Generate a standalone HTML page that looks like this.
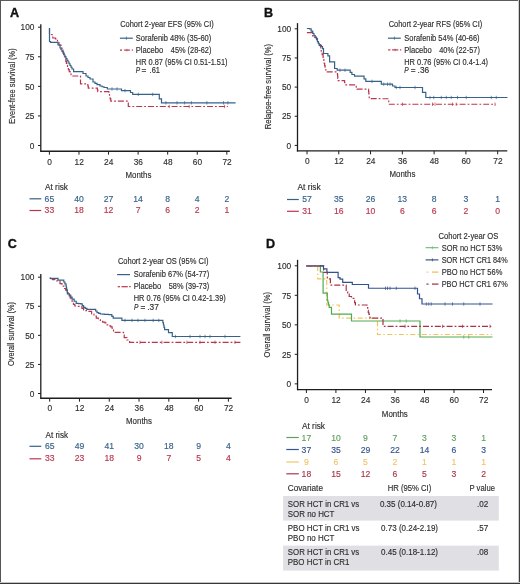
<!DOCTYPE html>
<html><head><meta charset="utf-8"><style>
html,body{margin:0;padding:0;background:#fff;}
body{width:520px;height:584px;overflow:hidden;position:relative;}
svg{position:absolute;left:0;top:0;will-change:transform;}
text{font-family:"Liberation Sans", sans-serif;}
</style></head><body>
<svg width="520" height="584" viewBox="0 0 520 584">
<rect x="0" y="0" width="520" height="584" fill="#fff"/>
<g fill="#2e2e2e">
<text x="10.00" y="17.10" font-size="12.6" fill="#111" font-weight="bold" stroke="#111" stroke-width="0.35">A</text>
<line x1="40.80" y1="24.20" x2="40.80" y2="151.85" stroke="#1e1e1e" stroke-width="1.3"/>
<line x1="40.20" y1="151.25" x2="229.85" y2="151.25" stroke="#1e1e1e" stroke-width="1.3"/>
<line x1="38.00" y1="27.20" x2="40.80" y2="27.20" stroke="#1e1e1e" stroke-width="1.0"/>
<g transform="translate(34.40,30.40) scale(0.85,1)">
<text x="0.00" y="0.00" font-size="9.8" text-anchor="end" stroke="#2e2e2e" stroke-width="0.15">100</text>
</g>
<line x1="38.00" y1="56.77" x2="40.80" y2="56.77" stroke="#1e1e1e" stroke-width="1.0"/>
<g transform="translate(34.40,59.98) scale(0.85,1)">
<text x="0.00" y="0.00" font-size="9.8" text-anchor="end" stroke="#2e2e2e" stroke-width="0.15">75</text>
</g>
<line x1="38.00" y1="86.35" x2="40.80" y2="86.35" stroke="#1e1e1e" stroke-width="1.0"/>
<g transform="translate(34.40,89.55) scale(0.85,1)">
<text x="0.00" y="0.00" font-size="9.8" text-anchor="end" stroke="#2e2e2e" stroke-width="0.15">50</text>
</g>
<line x1="38.00" y1="115.92" x2="40.80" y2="115.92" stroke="#1e1e1e" stroke-width="1.0"/>
<g transform="translate(34.40,119.12) scale(0.85,1)">
<text x="0.00" y="0.00" font-size="9.8" text-anchor="end" stroke="#2e2e2e" stroke-width="0.15">25</text>
</g>
<line x1="38.00" y1="145.50" x2="40.80" y2="145.50" stroke="#1e1e1e" stroke-width="1.0"/>
<g transform="translate(34.40,148.70) scale(0.85,1)">
<text x="0.00" y="0.00" font-size="9.8" text-anchor="end" stroke="#2e2e2e" stroke-width="0.15">0</text>
</g>
<line x1="49.40" y1="151.25" x2="49.40" y2="154.65" stroke="#1e1e1e" stroke-width="1.0"/>
<g transform="translate(49.60,164.60) scale(0.85,1)">
<text x="0.00" y="0.00" font-size="9.8" text-anchor="middle" stroke="#2e2e2e" stroke-width="0.15">0</text>
</g>
<line x1="78.97" y1="151.25" x2="78.97" y2="154.65" stroke="#1e1e1e" stroke-width="1.0"/>
<g transform="translate(79.17,164.60) scale(0.85,1)">
<text x="0.00" y="0.00" font-size="9.8" text-anchor="middle" stroke="#2e2e2e" stroke-width="0.15">12</text>
</g>
<line x1="108.54" y1="151.25" x2="108.54" y2="154.65" stroke="#1e1e1e" stroke-width="1.0"/>
<g transform="translate(108.74,164.60) scale(0.85,1)">
<text x="0.00" y="0.00" font-size="9.8" text-anchor="middle" stroke="#2e2e2e" stroke-width="0.15">24</text>
</g>
<line x1="138.11" y1="151.25" x2="138.11" y2="154.65" stroke="#1e1e1e" stroke-width="1.0"/>
<g transform="translate(138.31,164.60) scale(0.85,1)">
<text x="0.00" y="0.00" font-size="9.8" text-anchor="middle" stroke="#2e2e2e" stroke-width="0.15">36</text>
</g>
<line x1="167.68" y1="151.25" x2="167.68" y2="154.65" stroke="#1e1e1e" stroke-width="1.0"/>
<g transform="translate(167.88,164.60) scale(0.85,1)">
<text x="0.00" y="0.00" font-size="9.8" text-anchor="middle" stroke="#2e2e2e" stroke-width="0.15">48</text>
</g>
<line x1="197.25" y1="151.25" x2="197.25" y2="154.65" stroke="#1e1e1e" stroke-width="1.0"/>
<g transform="translate(197.45,164.60) scale(0.85,1)">
<text x="0.00" y="0.00" font-size="9.8" text-anchor="middle" stroke="#2e2e2e" stroke-width="0.15">60</text>
</g>
<line x1="226.82" y1="151.25" x2="226.82" y2="154.65" stroke="#1e1e1e" stroke-width="1.0"/>
<g transform="translate(227.02,164.60) scale(0.85,1)">
<text x="0.00" y="0.00" font-size="9.8" text-anchor="middle" stroke="#2e2e2e" stroke-width="0.15">72</text>
</g>
<text x="138.40" y="177.90" font-size="9.3" text-anchor="middle" stroke="#2e2e2e" stroke-width="0.15" textLength="25.90" lengthAdjust="spacingAndGlyphs">Months</text>
<text transform="translate(14.6,86.0) rotate(-90)" font-size="9.4" text-anchor="middle" textLength="75.4" lengthAdjust="spacingAndGlyphs" stroke="#2e2e2e" stroke-width="0.15">Event-free survival (%)</text>
<path d="M49.50,28.00 L49.50,33.50 L51.50,33.50 L51.50,34.50 L52.15,34.50 L52.15,36.25 L52.80,36.25 L52.80,38.00 L55.50,38.00 L55.50,38.80 L57.50,38.80 L57.50,42.00 L59.00,42.00 L59.00,45.00 L61.00,45.00 L61.00,48.00 L62.00,48.00 L62.00,50.00 L63.00,50.00 L63.00,52.00 L63.70,52.00 L63.70,54.33 L64.40,54.33 L64.40,56.65 L65.10,56.65 L65.10,58.97 L65.80,58.97 L65.80,61.30 L66.37,61.30 L66.37,63.33 L66.93,63.33 L66.93,65.37 L67.50,65.37 L67.50,67.40 L68.38,67.40 L68.38,69.55 L69.25,69.55 L69.25,71.70 L70.12,71.70 L70.12,73.85 L71.00,73.85 L71.00,76.00 L80.50,76.00 L80.50,83.80 L87.40,83.80 L87.85,83.80 L87.85,86.00 L88.30,86.00 L88.30,88.20 L97.00,88.20 L97.40,88.20 L97.40,89.90 L97.80,89.90 L97.80,91.60 L108.20,91.60 L108.85,91.60 L108.85,94.00 L109.50,94.00 L109.50,96.40 L110.15,96.40 L110.15,98.80 L110.80,98.80 L110.80,101.20 L128.30,101.20 L128.30,106.50 L227.90,106.50" fill="none" stroke="#ba364e" stroke-width="1.2" stroke-linejoin="miter" stroke-dasharray="6 2 1.8 2"/>
<path d="M49.50,28.00 L49.50,41.50 L50.50,41.50 L50.50,42.30 L56.20,42.30 L58.00,42.30 L58.00,45.00 L60.00,45.00 L60.00,48.00 L61.00,48.00 L61.00,49.75 L62.00,49.75 L62.00,51.50 L63.00,51.50 L63.00,53.25 L64.00,53.25 L64.00,55.00 L65.00,55.00 L65.00,56.75 L66.00,56.75 L66.00,58.50 L67.00,58.50 L67.00,60.25 L68.00,60.25 L68.00,62.00 L69.00,62.00 L69.00,63.75 L70.00,63.75 L70.00,65.50 L71.00,65.50 L71.00,67.25 L72.00,67.25 L72.00,69.00 L73.60,69.00 L73.60,71.70 L80.50,71.70 L83.00,71.70 L83.00,73.50 L86.00,73.50 L86.00,76.00 L88.00,76.00 L88.00,77.50 L90.00,77.50 L90.00,79.00 L93.00,79.00 L93.00,82.00 L95.00,82.00 L95.00,83.35 L97.00,83.35 L97.00,84.70 L100.00,84.70 L100.00,86.00 L102.00,86.00 L102.00,86.75 L104.00,86.75 L104.00,87.50 L107.30,87.50 L107.30,89.00 L120.30,89.00 L121.50,89.00 L121.50,90.60 L130.50,90.60 L130.50,92.50 L132.70,92.50 L132.70,94.40 L159.30,94.40 L159.30,98.80 L161.50,98.80 L161.50,102.80 L235.60,102.80" fill="none" stroke="#36628a" stroke-width="1.2" stroke-linejoin="miter"/>
<line x1="112.00" y1="87.30" x2="112.00" y2="90.70" stroke="#36628a" stroke-width="0.7"/>
<line x1="117.00" y1="87.30" x2="117.00" y2="90.70" stroke="#36628a" stroke-width="0.7"/>
<line x1="125.00" y1="88.90" x2="125.00" y2="92.30" stroke="#36628a" stroke-width="0.7"/>
<line x1="138.30" y1="92.70" x2="138.30" y2="96.10" stroke="#36628a" stroke-width="0.7"/>
<line x1="152.70" y1="92.70" x2="152.70" y2="96.10" stroke="#36628a" stroke-width="0.7"/>
<line x1="165.90" y1="101.10" x2="165.90" y2="104.50" stroke="#36628a" stroke-width="0.7"/>
<line x1="177.00" y1="101.10" x2="177.00" y2="104.50" stroke="#36628a" stroke-width="0.7"/>
<line x1="184.70" y1="101.10" x2="184.70" y2="104.50" stroke="#36628a" stroke-width="0.7"/>
<line x1="191.40" y1="101.10" x2="191.40" y2="104.50" stroke="#36628a" stroke-width="0.7"/>
<line x1="206.90" y1="101.10" x2="206.90" y2="104.50" stroke="#36628a" stroke-width="0.7"/>
<line x1="223.50" y1="101.10" x2="223.50" y2="104.50" stroke="#36628a" stroke-width="0.7"/>
<line x1="227.90" y1="101.10" x2="227.90" y2="104.50" stroke="#36628a" stroke-width="0.7"/>
<line x1="169.20" y1="104.80" x2="169.20" y2="108.20" stroke="#ba364e" stroke-width="0.7"/>
<line x1="189.20" y1="104.80" x2="189.20" y2="108.20" stroke="#ba364e" stroke-width="0.7"/>
<line x1="224.60" y1="104.80" x2="224.60" y2="108.20" stroke="#ba364e" stroke-width="0.7"/>
<text x="120.20" y="26.60" font-size="8.3" stroke="#2e2e2e" stroke-width="0.15" textLength="93.50" lengthAdjust="spacingAndGlyphs">Cohort 2-year EFS (95% CI)</text>
<line x1="119.90" y1="38.20" x2="132.80" y2="38.20" stroke="#36628a" stroke-width="1.2"/>
<line x1="126.40" y1="36.60" x2="126.40" y2="39.80" stroke="#36628a" stroke-width="0.7"/>
<text x="135.80" y="40.60" font-size="8.3" stroke="#2e2e2e" stroke-width="0.15" textLength="75.50" lengthAdjust="spacingAndGlyphs">Sorafenib 48% (35-60)</text>
<line x1="120.00" y1="50.10" x2="122.00" y2="50.10" stroke="#ba364e" stroke-width="1.2"/>
<line x1="124.10" y1="50.10" x2="129.90" y2="50.10" stroke="#ba364e" stroke-width="1.2"/>
<line x1="131.80" y1="50.10" x2="133.00" y2="50.10" stroke="#ba364e" stroke-width="1.2"/>
<line x1="126.90" y1="48.80" x2="126.90" y2="51.40" stroke="#ba364e" stroke-width="0.6"/>
<text x="135.80" y="52.50" font-size="8.3" stroke="#2e2e2e" stroke-width="0.15" textLength="27.50" lengthAdjust="spacingAndGlyphs">Placebo</text>
<text x="170.80" y="52.50" font-size="8.3" stroke="#2e2e2e" stroke-width="0.15" textLength="40.60" lengthAdjust="spacingAndGlyphs">45% (28-62)</text>
<text x="135.80" y="64.60" font-size="8.3" stroke="#2e2e2e" stroke-width="0.15" textLength="91.70" lengthAdjust="spacingAndGlyphs">HR 0.87 (95% CI 0.51-1.51)</text>
<text x="135.80" y="73.30" font-size="8.3" stroke="#2e2e2e" stroke-width="0.15" textLength="4.40" lengthAdjust="spacingAndGlyphs" font-style="italic">P</text>
<text x="141.60" y="73.30" font-size="8.3" stroke="#2e2e2e" stroke-width="0.15">=</text>
<text x="149.60" y="73.30" font-size="8.3" stroke="#2e2e2e" stroke-width="0.15" textLength="10.40" lengthAdjust="spacingAndGlyphs">.61</text>
<text x="45.00" y="190.00" font-size="8.2" stroke="#2e2e2e" stroke-width="0.15" textLength="23.00" lengthAdjust="spacingAndGlyphs">At risk</text>
<line x1="29.50" y1="198.80" x2="41.30" y2="198.80" stroke="#36628a" stroke-width="1.2"/>
<line x1="29.50" y1="210.50" x2="41.30" y2="210.50" stroke="#ba364e" stroke-width="1.2"/>
<text x="49.40" y="201.60" font-size="8.6" text-anchor="middle" fill="#36628a" stroke="#36628a" stroke-width="0.15">65</text>
<text x="49.40" y="213.40" font-size="8.6" text-anchor="middle" fill="#ba364e" stroke="#ba364e" stroke-width="0.15">33</text>
<text x="78.97" y="201.60" font-size="8.6" text-anchor="middle" fill="#36628a" stroke="#36628a" stroke-width="0.15">40</text>
<text x="78.97" y="213.40" font-size="8.6" text-anchor="middle" fill="#ba364e" stroke="#ba364e" stroke-width="0.15">18</text>
<text x="108.54" y="201.60" font-size="8.6" text-anchor="middle" fill="#36628a" stroke="#36628a" stroke-width="0.15">27</text>
<text x="108.54" y="213.40" font-size="8.6" text-anchor="middle" fill="#ba364e" stroke="#ba364e" stroke-width="0.15">12</text>
<text x="138.11" y="201.60" font-size="8.6" text-anchor="middle" fill="#36628a" stroke="#36628a" stroke-width="0.15">14</text>
<text x="138.11" y="213.40" font-size="8.6" text-anchor="middle" fill="#ba364e" stroke="#ba364e" stroke-width="0.15">7</text>
<text x="167.68" y="201.60" font-size="8.6" text-anchor="middle" fill="#36628a" stroke="#36628a" stroke-width="0.15">8</text>
<text x="167.68" y="213.40" font-size="8.6" text-anchor="middle" fill="#ba364e" stroke="#ba364e" stroke-width="0.15">6</text>
<text x="197.25" y="201.60" font-size="8.6" text-anchor="middle" fill="#36628a" stroke="#36628a" stroke-width="0.15">4</text>
<text x="197.25" y="213.40" font-size="8.6" text-anchor="middle" fill="#ba364e" stroke="#ba364e" stroke-width="0.15">2</text>
<text x="226.82" y="201.60" font-size="8.6" text-anchor="middle" fill="#36628a" stroke="#36628a" stroke-width="0.15">2</text>
<text x="226.82" y="213.40" font-size="8.6" text-anchor="middle" fill="#ba364e" stroke="#ba364e" stroke-width="0.15">1</text>
<text x="263.90" y="17.10" font-size="12.6" fill="#111" font-weight="bold" stroke="#111" stroke-width="0.35">B</text>
<line x1="297.50" y1="23.10" x2="297.50" y2="151.55" stroke="#1e1e1e" stroke-width="1.3"/>
<line x1="296.90" y1="150.95" x2="507.30" y2="150.95" stroke="#1e1e1e" stroke-width="1.3"/>
<line x1="294.70" y1="28.80" x2="297.50" y2="28.80" stroke="#1e1e1e" stroke-width="1.0"/>
<g transform="translate(291.20,32.00) scale(0.85,1)">
<text x="0.00" y="0.00" font-size="9.8" text-anchor="end" stroke="#2e2e2e" stroke-width="0.15">100</text>
</g>
<line x1="294.70" y1="57.95" x2="297.50" y2="57.95" stroke="#1e1e1e" stroke-width="1.0"/>
<g transform="translate(291.20,61.15) scale(0.85,1)">
<text x="0.00" y="0.00" font-size="9.8" text-anchor="end" stroke="#2e2e2e" stroke-width="0.15">75</text>
</g>
<line x1="294.70" y1="87.10" x2="297.50" y2="87.10" stroke="#1e1e1e" stroke-width="1.0"/>
<g transform="translate(291.20,90.30) scale(0.85,1)">
<text x="0.00" y="0.00" font-size="9.8" text-anchor="end" stroke="#2e2e2e" stroke-width="0.15">50</text>
</g>
<line x1="294.70" y1="116.25" x2="297.50" y2="116.25" stroke="#1e1e1e" stroke-width="1.0"/>
<g transform="translate(291.20,119.45) scale(0.85,1)">
<text x="0.00" y="0.00" font-size="9.8" text-anchor="end" stroke="#2e2e2e" stroke-width="0.15">25</text>
</g>
<line x1="294.70" y1="145.40" x2="297.50" y2="145.40" stroke="#1e1e1e" stroke-width="1.0"/>
<g transform="translate(291.20,148.60) scale(0.85,1)">
<text x="0.00" y="0.00" font-size="9.8" text-anchor="end" stroke="#2e2e2e" stroke-width="0.15">0</text>
</g>
<line x1="307.00" y1="150.95" x2="307.00" y2="154.35" stroke="#1e1e1e" stroke-width="1.0"/>
<g transform="translate(307.20,164.00) scale(0.85,1)">
<text x="0.00" y="0.00" font-size="9.8" text-anchor="middle" stroke="#2e2e2e" stroke-width="0.15">0</text>
</g>
<line x1="338.78" y1="150.95" x2="338.78" y2="154.35" stroke="#1e1e1e" stroke-width="1.0"/>
<g transform="translate(338.98,164.00) scale(0.85,1)">
<text x="0.00" y="0.00" font-size="9.8" text-anchor="middle" stroke="#2e2e2e" stroke-width="0.15">12</text>
</g>
<line x1="370.56" y1="150.95" x2="370.56" y2="154.35" stroke="#1e1e1e" stroke-width="1.0"/>
<g transform="translate(370.76,164.00) scale(0.85,1)">
<text x="0.00" y="0.00" font-size="9.8" text-anchor="middle" stroke="#2e2e2e" stroke-width="0.15">24</text>
</g>
<line x1="402.34" y1="150.95" x2="402.34" y2="154.35" stroke="#1e1e1e" stroke-width="1.0"/>
<g transform="translate(402.54,164.00) scale(0.85,1)">
<text x="0.00" y="0.00" font-size="9.8" text-anchor="middle" stroke="#2e2e2e" stroke-width="0.15">36</text>
</g>
<line x1="434.12" y1="150.95" x2="434.12" y2="154.35" stroke="#1e1e1e" stroke-width="1.0"/>
<g transform="translate(434.32,164.00) scale(0.85,1)">
<text x="0.00" y="0.00" font-size="9.8" text-anchor="middle" stroke="#2e2e2e" stroke-width="0.15">48</text>
</g>
<line x1="465.90" y1="150.95" x2="465.90" y2="154.35" stroke="#1e1e1e" stroke-width="1.0"/>
<g transform="translate(466.10,164.00) scale(0.85,1)">
<text x="0.00" y="0.00" font-size="9.8" text-anchor="middle" stroke="#2e2e2e" stroke-width="0.15">60</text>
</g>
<line x1="497.68" y1="150.95" x2="497.68" y2="154.35" stroke="#1e1e1e" stroke-width="1.0"/>
<g transform="translate(497.88,164.00) scale(0.85,1)">
<text x="0.00" y="0.00" font-size="9.8" text-anchor="middle" stroke="#2e2e2e" stroke-width="0.15">72</text>
</g>
<text x="402.40" y="177.30" font-size="9.3" text-anchor="middle" stroke="#2e2e2e" stroke-width="0.15" textLength="25.90" lengthAdjust="spacingAndGlyphs">Months</text>
<text transform="translate(271.2,86.6) rotate(-90)" font-size="9.4" text-anchor="middle" textLength="85.5" lengthAdjust="spacingAndGlyphs" stroke="#2e2e2e" stroke-width="0.15">Relapse-free survival (%)</text>
<path d="M306.90,32.70 L310.40,32.70 L312.70,32.70 L312.70,35.80 L314.60,35.80 L314.60,37.15 L316.50,37.15 L316.50,38.50 L317.48,38.50 L317.48,40.50 L318.45,40.50 L318.45,42.50 L319.42,42.50 L319.42,44.50 L320.40,44.50 L320.40,46.50 L320.80,46.50 L320.80,49.20 L321.20,49.20 L321.20,51.90 L322.15,51.90 L322.15,54.60 L323.10,54.60 L323.10,57.30 L323.47,57.30 L323.47,59.37 L323.83,59.37 L323.83,61.43 L324.20,61.43 L324.20,63.50 L324.65,63.50 L324.65,65.60 L325.10,65.60 L325.10,67.70 L325.55,67.70 L325.55,69.80 L326.00,69.80 L326.00,71.90 L337.20,71.90 L337.40,71.90 L337.40,74.08 L337.60,74.08 L337.60,76.25 L337.80,76.25 L337.80,78.42 L338.00,78.42 L338.00,80.60 L343.30,80.60 L344.60,80.60 L344.60,82.75 L345.90,82.75 L345.90,84.90 L355.40,84.90 L356.25,84.90 L356.25,87.05 L357.10,87.05 L357.10,89.20 L368.40,89.20 L368.60,89.20 L368.60,91.58 L368.80,91.58 L368.80,93.95 L369.00,93.95 L369.00,96.33 L369.20,96.33 L369.20,98.70 L388.75,98.75 L388.75,104.25 L495.50,104.25" fill="none" stroke="#ba364e" stroke-width="1.2" stroke-linejoin="miter" stroke-dasharray="6 2 1.8 2"/>
<path d="M306.90,28.50 L309.60,28.50 L309.60,28.80 L311.15,28.80 L311.15,31.15 L312.70,31.15 L312.70,33.50 L313.97,33.50 L313.97,35.53 L315.23,35.53 L315.23,37.57 L316.50,37.57 L316.50,39.60 L317.40,39.60 L317.40,41.53 L318.30,41.53 L318.30,43.47 L319.20,43.47 L319.20,45.40 L321.50,45.40 L321.50,46.50 L322.50,46.50 L322.50,48.65 L323.50,48.65 L323.50,50.80 L323.50,53.50 L326.20,53.50 L327.90,53.50 L327.90,55.80 L329.60,55.80 L329.60,58.10 L329.60,61.90 L334.60,61.90 L334.60,68.50 L337.20,68.50 L337.20,70.20 L348.50,70.20 L350.20,70.20 L350.20,72.35 L351.90,72.35 L351.90,74.50 L354.50,74.50 L354.50,76.20 L362.30,76.20 L364.05,76.20 L364.05,78.80 L365.80,78.80 L365.80,81.40 L379.60,81.40 L381.30,81.40 L381.30,84.20 L392.50,84.20 L392.50,86.00 L395.00,86.00 L395.00,87.50 L422.50,87.50 L422.50,92.30 L425.80,92.30 L425.80,97.50 L507.50,97.50" fill="none" stroke="#36628a" stroke-width="1.2" stroke-linejoin="miter"/>
<line x1="340.00" y1="68.50" x2="340.00" y2="71.90" stroke="#36628a" stroke-width="0.7"/>
<line x1="345.00" y1="68.50" x2="345.00" y2="71.90" stroke="#36628a" stroke-width="0.7"/>
<line x1="372.00" y1="79.70" x2="372.00" y2="83.10" stroke="#36628a" stroke-width="0.7"/>
<line x1="383.75" y1="82.50" x2="383.75" y2="85.90" stroke="#36628a" stroke-width="0.7"/>
<line x1="387.50" y1="82.50" x2="387.50" y2="85.90" stroke="#36628a" stroke-width="0.7"/>
<line x1="390.00" y1="82.50" x2="390.00" y2="85.90" stroke="#36628a" stroke-width="0.7"/>
<line x1="396.25" y1="85.80" x2="396.25" y2="89.20" stroke="#36628a" stroke-width="0.7"/>
<line x1="400.00" y1="85.80" x2="400.00" y2="89.20" stroke="#36628a" stroke-width="0.7"/>
<line x1="415.00" y1="85.80" x2="415.00" y2="89.20" stroke="#36628a" stroke-width="0.7"/>
<line x1="430.00" y1="95.80" x2="430.00" y2="99.20" stroke="#36628a" stroke-width="0.7"/>
<line x1="433.75" y1="95.80" x2="433.75" y2="99.20" stroke="#36628a" stroke-width="0.7"/>
<line x1="441.25" y1="95.80" x2="441.25" y2="99.20" stroke="#36628a" stroke-width="0.7"/>
<line x1="446.25" y1="95.80" x2="446.25" y2="99.20" stroke="#36628a" stroke-width="0.7"/>
<line x1="451.25" y1="95.80" x2="451.25" y2="99.20" stroke="#36628a" stroke-width="0.7"/>
<line x1="457.50" y1="95.80" x2="457.50" y2="99.20" stroke="#36628a" stroke-width="0.7"/>
<line x1="466.25" y1="95.80" x2="466.25" y2="99.20" stroke="#36628a" stroke-width="0.7"/>
<line x1="491.25" y1="95.80" x2="491.25" y2="99.20" stroke="#36628a" stroke-width="0.7"/>
<line x1="496.25" y1="95.80" x2="496.25" y2="99.20" stroke="#36628a" stroke-width="0.7"/>
<line x1="402.50" y1="102.55" x2="402.50" y2="105.95" stroke="#ba364e" stroke-width="0.7"/>
<line x1="432.50" y1="102.55" x2="432.50" y2="105.95" stroke="#ba364e" stroke-width="0.7"/>
<line x1="435.00" y1="102.55" x2="435.00" y2="105.95" stroke="#ba364e" stroke-width="0.7"/>
<line x1="452.50" y1="102.55" x2="452.50" y2="105.95" stroke="#ba364e" stroke-width="0.7"/>
<line x1="456.25" y1="102.55" x2="456.25" y2="105.95" stroke="#ba364e" stroke-width="0.7"/>
<line x1="495.00" y1="102.55" x2="495.00" y2="105.95" stroke="#ba364e" stroke-width="0.7"/>
<text x="388.75" y="26.60" font-size="8.3" stroke="#2e2e2e" stroke-width="0.15" textLength="93.50" lengthAdjust="spacingAndGlyphs">Cohort 2-year RFS (95% CI)</text>
<line x1="387.90" y1="38.20" x2="400.80" y2="38.20" stroke="#36628a" stroke-width="1.2"/>
<line x1="394.40" y1="36.60" x2="394.40" y2="39.80" stroke="#36628a" stroke-width="0.7"/>
<text x="404.25" y="40.60" font-size="8.3" stroke="#2e2e2e" stroke-width="0.15" textLength="75.30" lengthAdjust="spacingAndGlyphs">Sorafenib 54% (40-66)</text>
<line x1="388.10" y1="49.90" x2="390.40" y2="49.90" stroke="#ba364e" stroke-width="1.2"/>
<line x1="392.10" y1="49.90" x2="398.30" y2="49.90" stroke="#ba364e" stroke-width="1.2"/>
<line x1="400.00" y1="49.90" x2="401.20" y2="49.90" stroke="#ba364e" stroke-width="1.2"/>
<line x1="395.20" y1="48.60" x2="395.20" y2="51.20" stroke="#ba364e" stroke-width="0.6"/>
<text x="404.25" y="52.80" font-size="8.3" stroke="#2e2e2e" stroke-width="0.15" textLength="27.50" lengthAdjust="spacingAndGlyphs">Placebo</text>
<text x="439.25" y="52.80" font-size="8.3" stroke="#2e2e2e" stroke-width="0.15" textLength="40.60" lengthAdjust="spacingAndGlyphs">40% (22-57)</text>
<text x="404.25" y="65.00" font-size="8.3" stroke="#2e2e2e" stroke-width="0.15" textLength="83.80" lengthAdjust="spacingAndGlyphs">HR 0.76 (95% CI 0.4-1.4)</text>
<text x="404.25" y="73.10" font-size="8.3" stroke="#2e2e2e" stroke-width="0.15" textLength="4.40" lengthAdjust="spacingAndGlyphs" font-style="italic">P</text>
<text x="410.80" y="73.10" font-size="8.3" stroke="#2e2e2e" stroke-width="0.15">=</text>
<text x="417.60" y="73.10" font-size="8.3" stroke="#2e2e2e" stroke-width="0.15">.36</text>
<text x="297.50" y="189.50" font-size="8.2" stroke="#2e2e2e" stroke-width="0.15" textLength="23.20" lengthAdjust="spacingAndGlyphs">At risk</text>
<line x1="287.00" y1="199.50" x2="298.80" y2="199.50" stroke="#36628a" stroke-width="1.2"/>
<line x1="287.00" y1="211.30" x2="298.80" y2="211.30" stroke="#ba364e" stroke-width="1.2"/>
<text x="307.00" y="202.20" font-size="8.6" text-anchor="middle" fill="#36628a" stroke="#36628a" stroke-width="0.15">57</text>
<text x="307.00" y="214.00" font-size="8.6" text-anchor="middle" fill="#ba364e" stroke="#ba364e" stroke-width="0.15">31</text>
<text x="338.78" y="202.20" font-size="8.6" text-anchor="middle" fill="#36628a" stroke="#36628a" stroke-width="0.15">35</text>
<text x="338.78" y="214.00" font-size="8.6" text-anchor="middle" fill="#ba364e" stroke="#ba364e" stroke-width="0.15">16</text>
<text x="370.56" y="202.20" font-size="8.6" text-anchor="middle" fill="#36628a" stroke="#36628a" stroke-width="0.15">26</text>
<text x="370.56" y="214.00" font-size="8.6" text-anchor="middle" fill="#ba364e" stroke="#ba364e" stroke-width="0.15">10</text>
<text x="402.34" y="202.20" font-size="8.6" text-anchor="middle" fill="#36628a" stroke="#36628a" stroke-width="0.15">13</text>
<text x="402.34" y="214.00" font-size="8.6" text-anchor="middle" fill="#ba364e" stroke="#ba364e" stroke-width="0.15">6</text>
<text x="434.12" y="202.20" font-size="8.6" text-anchor="middle" fill="#36628a" stroke="#36628a" stroke-width="0.15">8</text>
<text x="434.12" y="214.00" font-size="8.6" text-anchor="middle" fill="#ba364e" stroke="#ba364e" stroke-width="0.15">6</text>
<text x="465.90" y="202.20" font-size="8.6" text-anchor="middle" fill="#36628a" stroke="#36628a" stroke-width="0.15">3</text>
<text x="465.90" y="214.00" font-size="8.6" text-anchor="middle" fill="#ba364e" stroke="#ba364e" stroke-width="0.15">2</text>
<text x="497.68" y="202.20" font-size="8.6" text-anchor="middle" fill="#36628a" stroke="#36628a" stroke-width="0.15">1</text>
<text x="497.68" y="214.00" font-size="8.6" text-anchor="middle" fill="#ba364e" stroke="#ba364e" stroke-width="0.15">0</text>
<text x="7.80" y="248.10" font-size="12.6" fill="#111" font-weight="bold" stroke="#111" stroke-width="0.35">C</text>
<line x1="40.80" y1="274.00" x2="40.80" y2="398.85" stroke="#1e1e1e" stroke-width="1.3"/>
<line x1="40.20" y1="398.25" x2="231.65" y2="398.25" stroke="#1e1e1e" stroke-width="1.3"/>
<line x1="38.00" y1="277.20" x2="40.80" y2="277.20" stroke="#1e1e1e" stroke-width="1.0"/>
<g transform="translate(34.40,280.40) scale(0.85,1)">
<text x="0.00" y="0.00" font-size="9.8" text-anchor="end" stroke="#2e2e2e" stroke-width="0.15">100</text>
</g>
<line x1="38.00" y1="306.27" x2="40.80" y2="306.27" stroke="#1e1e1e" stroke-width="1.0"/>
<g transform="translate(34.40,309.47) scale(0.85,1)">
<text x="0.00" y="0.00" font-size="9.8" text-anchor="end" stroke="#2e2e2e" stroke-width="0.15">75</text>
</g>
<line x1="38.00" y1="335.35" x2="40.80" y2="335.35" stroke="#1e1e1e" stroke-width="1.0"/>
<g transform="translate(34.40,338.55) scale(0.85,1)">
<text x="0.00" y="0.00" font-size="9.8" text-anchor="end" stroke="#2e2e2e" stroke-width="0.15">50</text>
</g>
<line x1="38.00" y1="364.43" x2="40.80" y2="364.43" stroke="#1e1e1e" stroke-width="1.0"/>
<g transform="translate(34.40,367.62) scale(0.85,1)">
<text x="0.00" y="0.00" font-size="9.8" text-anchor="end" stroke="#2e2e2e" stroke-width="0.15">25</text>
</g>
<line x1="38.00" y1="393.50" x2="40.80" y2="393.50" stroke="#1e1e1e" stroke-width="1.0"/>
<g transform="translate(34.40,396.70) scale(0.85,1)">
<text x="0.00" y="0.00" font-size="9.8" text-anchor="end" stroke="#2e2e2e" stroke-width="0.15">0</text>
</g>
<line x1="49.70" y1="398.25" x2="49.70" y2="401.65" stroke="#1e1e1e" stroke-width="1.0"/>
<g transform="translate(49.90,411.40) scale(0.85,1)">
<text x="0.00" y="0.00" font-size="9.8" text-anchor="middle" stroke="#2e2e2e" stroke-width="0.15">0</text>
</g>
<line x1="79.48" y1="398.25" x2="79.48" y2="401.65" stroke="#1e1e1e" stroke-width="1.0"/>
<g transform="translate(79.68,411.40) scale(0.85,1)">
<text x="0.00" y="0.00" font-size="9.8" text-anchor="middle" stroke="#2e2e2e" stroke-width="0.15">12</text>
</g>
<line x1="109.26" y1="398.25" x2="109.26" y2="401.65" stroke="#1e1e1e" stroke-width="1.0"/>
<g transform="translate(109.46,411.40) scale(0.85,1)">
<text x="0.00" y="0.00" font-size="9.8" text-anchor="middle" stroke="#2e2e2e" stroke-width="0.15">24</text>
</g>
<line x1="139.04" y1="398.25" x2="139.04" y2="401.65" stroke="#1e1e1e" stroke-width="1.0"/>
<g transform="translate(139.24,411.40) scale(0.85,1)">
<text x="0.00" y="0.00" font-size="9.8" text-anchor="middle" stroke="#2e2e2e" stroke-width="0.15">36</text>
</g>
<line x1="168.82" y1="398.25" x2="168.82" y2="401.65" stroke="#1e1e1e" stroke-width="1.0"/>
<g transform="translate(169.02,411.40) scale(0.85,1)">
<text x="0.00" y="0.00" font-size="9.8" text-anchor="middle" stroke="#2e2e2e" stroke-width="0.15">48</text>
</g>
<line x1="198.60" y1="398.25" x2="198.60" y2="401.65" stroke="#1e1e1e" stroke-width="1.0"/>
<g transform="translate(198.80,411.40) scale(0.85,1)">
<text x="0.00" y="0.00" font-size="9.8" text-anchor="middle" stroke="#2e2e2e" stroke-width="0.15">60</text>
</g>
<line x1="228.38" y1="398.25" x2="228.38" y2="401.65" stroke="#1e1e1e" stroke-width="1.0"/>
<g transform="translate(228.58,411.40) scale(0.85,1)">
<text x="0.00" y="0.00" font-size="9.8" text-anchor="middle" stroke="#2e2e2e" stroke-width="0.15">72</text>
</g>
<text x="139.00" y="424.30" font-size="9.3" text-anchor="middle" stroke="#2e2e2e" stroke-width="0.15" textLength="25.90" lengthAdjust="spacingAndGlyphs">Months</text>
<text transform="translate(14.4,334) rotate(-90)" font-size="9.4" text-anchor="middle" textLength="64" lengthAdjust="spacingAndGlyphs" stroke="#2e2e2e" stroke-width="0.15">Overall survival (%)</text>
<path d="M50.20,278.70 L52.50,278.70 L52.50,279.53 L54.80,279.53 L54.80,280.37 L57.10,280.37 L57.10,281.20 L60.00,281.20 L60.00,283.70 L62.00,283.70 L62.00,286.10 L64.00,286.10 L64.00,288.50 L65.70,288.50 L65.70,290.15 L67.40,290.15 L67.40,291.80 L68.30,291.80 L68.30,293.83 L69.20,293.83 L69.20,295.87 L70.10,295.87 L70.10,297.90 L71.10,297.90 L71.10,300.25 L72.10,300.25 L72.10,302.60 L73.45,302.60 L73.45,304.30 L74.80,304.30 L74.80,306.00 L77.50,306.00 L77.50,306.30 L80.20,306.30 L80.20,306.60 L81.90,306.60 L81.90,308.30 L83.60,308.30 L83.60,310.00 L85.95,310.00 L85.95,310.65 L88.30,310.65 L88.30,311.30 L91.60,311.30 L91.60,314.00 L93.95,314.00 L93.95,316.05 L96.30,316.05 L96.30,318.10 L98.35,318.10 L98.35,319.75 L100.40,319.75 L100.40,321.40 L102.70,321.40 L102.70,322.10 L105.00,322.10 L105.00,322.80 L107.10,322.80 L107.10,324.80 L108.95,324.80 L108.95,325.85 L110.80,325.85 L110.80,326.90 L112.15,326.90 L112.15,329.60 L113.50,329.60 L113.50,332.30 L122.90,332.30 L123.55,332.30 L123.55,335.00 L124.20,335.00 L124.20,337.70 L126.90,337.70 L126.90,340.00 L129.60,340.00 L129.60,342.30 L240.40,342.30" fill="none" stroke="#ba364e" stroke-width="1.2" stroke-linejoin="miter" stroke-dasharray="6 2 1.8 2"/>
<path d="M50.20,277.20 L50.20,278.40 L58.00,278.40 L58.00,280.10 L62.70,280.10 L63.80,280.10 L63.80,282.00 L64.90,282.00 L64.90,283.90 L66.00,283.90 L66.00,285.80 L66.35,285.80 L66.35,287.80 L66.70,287.80 L66.70,289.80 L67.05,289.80 L67.05,291.80 L67.40,291.80 L67.40,293.80 L69.40,293.80 L69.40,295.20 L70.75,295.20 L70.75,297.20 L72.10,297.20 L72.10,299.20 L74.15,299.20 L74.15,301.25 L76.20,301.25 L76.20,303.30 L78.55,303.30 L78.55,303.60 L80.90,303.60 L80.90,303.90 L82.25,303.90 L82.25,305.60 L83.60,305.60 L83.60,307.30 L85.25,307.30 L85.25,308.30 L86.90,308.30 L86.90,309.30 L94.30,309.30 L95.65,309.30 L95.65,311.00 L97.00,311.00 L97.00,312.70 L98.70,312.70 L98.70,313.35 L100.40,313.35 L100.40,314.00 L102.42,314.00 L102.42,314.14 L104.44,314.14 L104.44,314.28 L106.46,314.28 L106.46,314.42 L108.48,314.42 L108.48,314.56 L110.50,314.56 L110.50,314.70 L111.85,314.70 L111.85,316.40 L113.20,316.40 L113.20,318.10 L119.20,318.10 L121.90,318.10 L121.90,320.40 L162.30,320.40 L162.88,320.40 L162.88,322.70 L163.45,322.70 L163.45,325.00 L164.03,325.00 L164.03,327.30 L164.60,327.30 L164.60,329.60 L167.70,329.60 L168.50,329.60 L168.50,332.70 L172.30,332.70 L172.30,336.50 L240.40,336.50" fill="none" stroke="#36628a" stroke-width="1.2" stroke-linejoin="miter"/>
<line x1="125.00" y1="318.70" x2="125.00" y2="322.10" stroke="#36628a" stroke-width="0.7"/>
<line x1="132.00" y1="318.70" x2="132.00" y2="322.10" stroke="#36628a" stroke-width="0.7"/>
<line x1="138.00" y1="318.70" x2="138.00" y2="322.10" stroke="#36628a" stroke-width="0.7"/>
<line x1="145.00" y1="318.70" x2="145.00" y2="322.10" stroke="#36628a" stroke-width="0.7"/>
<line x1="153.10" y1="318.70" x2="153.10" y2="322.10" stroke="#36628a" stroke-width="0.7"/>
<line x1="158.80" y1="318.70" x2="158.80" y2="322.10" stroke="#36628a" stroke-width="0.7"/>
<line x1="175.40" y1="334.80" x2="175.40" y2="338.20" stroke="#36628a" stroke-width="0.7"/>
<line x1="190.00" y1="334.80" x2="190.00" y2="338.20" stroke="#36628a" stroke-width="0.7"/>
<line x1="200.00" y1="334.80" x2="200.00" y2="338.20" stroke="#36628a" stroke-width="0.7"/>
<line x1="205.00" y1="334.80" x2="205.00" y2="338.20" stroke="#36628a" stroke-width="0.7"/>
<line x1="210.00" y1="334.80" x2="210.00" y2="338.20" stroke="#36628a" stroke-width="0.7"/>
<line x1="225.00" y1="334.80" x2="225.00" y2="338.20" stroke="#36628a" stroke-width="0.7"/>
<line x1="140.00" y1="340.60" x2="140.00" y2="344.00" stroke="#ba364e" stroke-width="0.7"/>
<line x1="161.90" y1="340.60" x2="161.90" y2="344.00" stroke="#ba364e" stroke-width="0.7"/>
<line x1="186.90" y1="340.60" x2="186.90" y2="344.00" stroke="#ba364e" stroke-width="0.7"/>
<line x1="200.00" y1="340.60" x2="200.00" y2="344.00" stroke="#ba364e" stroke-width="0.7"/>
<line x1="215.00" y1="340.60" x2="215.00" y2="344.00" stroke="#ba364e" stroke-width="0.7"/>
<line x1="235.00" y1="340.60" x2="235.00" y2="344.00" stroke="#ba364e" stroke-width="0.7"/>
<text x="117.90" y="264.20" font-size="8.3" stroke="#2e2e2e" stroke-width="0.15" textLength="90.60" lengthAdjust="spacingAndGlyphs">Cohort 2-year OS (95% CI)</text>
<line x1="117.10" y1="274.60" x2="130.00" y2="274.60" stroke="#36628a" stroke-width="1.2"/>
<text x="133.75" y="277.30" font-size="8.3" stroke="#2e2e2e" stroke-width="0.15" textLength="75.50" lengthAdjust="spacingAndGlyphs">Sorafenib 67% (54-77)</text>
<line x1="117.70" y1="286.70" x2="120.00" y2="286.70" stroke="#ba364e" stroke-width="1.2"/>
<line x1="121.50" y1="286.70" x2="127.80" y2="286.70" stroke="#ba364e" stroke-width="1.2"/>
<line x1="129.20" y1="286.70" x2="130.70" y2="286.70" stroke="#ba364e" stroke-width="1.2"/>
<text x="133.75" y="289.10" font-size="8.3" stroke="#2e2e2e" stroke-width="0.15" textLength="27.50" lengthAdjust="spacingAndGlyphs">Placebo</text>
<text x="168.75" y="289.10" font-size="8.3" stroke="#2e2e2e" stroke-width="0.15" textLength="40.50" lengthAdjust="spacingAndGlyphs">58% (39-73)</text>
<text x="133.75" y="300.80" font-size="8.3" stroke="#2e2e2e" stroke-width="0.15" textLength="92.00" lengthAdjust="spacingAndGlyphs">HR 0.76 (95% CI 0.42-1.39)</text>
<text x="133.90" y="309.80" font-size="8.3" stroke="#2e2e2e" stroke-width="0.15" textLength="4.40" lengthAdjust="spacingAndGlyphs" font-style="italic">P</text>
<text x="140.60" y="309.80" font-size="8.3" stroke="#2e2e2e" stroke-width="0.15">=</text>
<text x="147.30" y="309.80" font-size="8.3" stroke="#2e2e2e" stroke-width="0.15">.37</text>
<text x="45.50" y="437.60" font-size="8.2" stroke="#2e2e2e" stroke-width="0.15" textLength="22.50" lengthAdjust="spacingAndGlyphs">At risk</text>
<line x1="29.50" y1="446.30" x2="41.30" y2="446.30" stroke="#36628a" stroke-width="1.2"/>
<line x1="29.50" y1="458.80" x2="41.30" y2="458.80" stroke="#ba364e" stroke-width="1.2"/>
<text x="49.70" y="449.30" font-size="8.6" text-anchor="middle" fill="#36628a" stroke="#36628a" stroke-width="0.15">65</text>
<text x="49.70" y="461.30" font-size="8.6" text-anchor="middle" fill="#ba364e" stroke="#ba364e" stroke-width="0.15">33</text>
<text x="79.48" y="449.30" font-size="8.6" text-anchor="middle" fill="#36628a" stroke="#36628a" stroke-width="0.15">49</text>
<text x="79.48" y="461.30" font-size="8.6" text-anchor="middle" fill="#ba364e" stroke="#ba364e" stroke-width="0.15">23</text>
<text x="109.26" y="449.30" font-size="8.6" text-anchor="middle" fill="#36628a" stroke="#36628a" stroke-width="0.15">41</text>
<text x="109.26" y="461.30" font-size="8.6" text-anchor="middle" fill="#ba364e" stroke="#ba364e" stroke-width="0.15">18</text>
<text x="139.04" y="449.30" font-size="8.6" text-anchor="middle" fill="#36628a" stroke="#36628a" stroke-width="0.15">30</text>
<text x="139.04" y="461.30" font-size="8.6" text-anchor="middle" fill="#ba364e" stroke="#ba364e" stroke-width="0.15">9</text>
<text x="168.82" y="449.30" font-size="8.6" text-anchor="middle" fill="#36628a" stroke="#36628a" stroke-width="0.15">18</text>
<text x="168.82" y="461.30" font-size="8.6" text-anchor="middle" fill="#ba364e" stroke="#ba364e" stroke-width="0.15">7</text>
<text x="198.60" y="449.30" font-size="8.6" text-anchor="middle" fill="#36628a" stroke="#36628a" stroke-width="0.15">9</text>
<text x="198.60" y="461.30" font-size="8.6" text-anchor="middle" fill="#ba364e" stroke="#ba364e" stroke-width="0.15">5</text>
<text x="228.38" y="449.30" font-size="8.6" text-anchor="middle" fill="#36628a" stroke="#36628a" stroke-width="0.15">4</text>
<text x="228.38" y="461.30" font-size="8.6" text-anchor="middle" fill="#ba364e" stroke="#ba364e" stroke-width="0.15">4</text>
<text x="265.90" y="248.10" font-size="12.6" fill="#111" font-weight="bold" stroke="#111" stroke-width="0.35">D</text>
<line x1="297.55" y1="259.80" x2="297.55" y2="390.20" stroke="#1e1e1e" stroke-width="1.3"/>
<line x1="296.95" y1="389.60" x2="492.00" y2="389.60" stroke="#1e1e1e" stroke-width="1.3"/>
<line x1="294.75" y1="265.80" x2="297.55" y2="265.80" stroke="#1e1e1e" stroke-width="1.0"/>
<g transform="translate(291.20,269.00) scale(0.85,1)">
<text x="0.00" y="0.00" font-size="9.8" text-anchor="end" stroke="#2e2e2e" stroke-width="0.15">100</text>
</g>
<line x1="294.75" y1="295.31" x2="297.55" y2="295.31" stroke="#1e1e1e" stroke-width="1.0"/>
<g transform="translate(291.20,298.51) scale(0.85,1)">
<text x="0.00" y="0.00" font-size="9.8" text-anchor="end" stroke="#2e2e2e" stroke-width="0.15">75</text>
</g>
<line x1="294.75" y1="324.83" x2="297.55" y2="324.83" stroke="#1e1e1e" stroke-width="1.0"/>
<g transform="translate(291.20,328.03) scale(0.85,1)">
<text x="0.00" y="0.00" font-size="9.8" text-anchor="end" stroke="#2e2e2e" stroke-width="0.15">50</text>
</g>
<line x1="294.75" y1="354.34" x2="297.55" y2="354.34" stroke="#1e1e1e" stroke-width="1.0"/>
<g transform="translate(291.20,357.54) scale(0.85,1)">
<text x="0.00" y="0.00" font-size="9.8" text-anchor="end" stroke="#2e2e2e" stroke-width="0.15">25</text>
</g>
<line x1="294.75" y1="383.85" x2="297.55" y2="383.85" stroke="#1e1e1e" stroke-width="1.0"/>
<g transform="translate(291.20,387.05) scale(0.85,1)">
<text x="0.00" y="0.00" font-size="9.8" text-anchor="end" stroke="#2e2e2e" stroke-width="0.15">0</text>
</g>
<line x1="306.40" y1="389.60" x2="306.40" y2="393.00" stroke="#1e1e1e" stroke-width="1.0"/>
<g transform="translate(306.60,402.70) scale(0.85,1)">
<text x="0.00" y="0.00" font-size="9.8" text-anchor="middle" stroke="#2e2e2e" stroke-width="0.15">0</text>
</g>
<line x1="335.92" y1="389.60" x2="335.92" y2="393.00" stroke="#1e1e1e" stroke-width="1.0"/>
<g transform="translate(336.12,402.70) scale(0.85,1)">
<text x="0.00" y="0.00" font-size="9.8" text-anchor="middle" stroke="#2e2e2e" stroke-width="0.15">12</text>
</g>
<line x1="365.44" y1="389.60" x2="365.44" y2="393.00" stroke="#1e1e1e" stroke-width="1.0"/>
<g transform="translate(365.64,402.70) scale(0.85,1)">
<text x="0.00" y="0.00" font-size="9.8" text-anchor="middle" stroke="#2e2e2e" stroke-width="0.15">24</text>
</g>
<line x1="394.96" y1="389.60" x2="394.96" y2="393.00" stroke="#1e1e1e" stroke-width="1.0"/>
<g transform="translate(395.16,402.70) scale(0.85,1)">
<text x="0.00" y="0.00" font-size="9.8" text-anchor="middle" stroke="#2e2e2e" stroke-width="0.15">36</text>
</g>
<line x1="424.48" y1="389.60" x2="424.48" y2="393.00" stroke="#1e1e1e" stroke-width="1.0"/>
<g transform="translate(424.68,402.70) scale(0.85,1)">
<text x="0.00" y="0.00" font-size="9.8" text-anchor="middle" stroke="#2e2e2e" stroke-width="0.15">48</text>
</g>
<line x1="454.00" y1="389.60" x2="454.00" y2="393.00" stroke="#1e1e1e" stroke-width="1.0"/>
<g transform="translate(454.20,402.70) scale(0.85,1)">
<text x="0.00" y="0.00" font-size="9.8" text-anchor="middle" stroke="#2e2e2e" stroke-width="0.15">60</text>
</g>
<line x1="483.52" y1="389.60" x2="483.52" y2="393.00" stroke="#1e1e1e" stroke-width="1.0"/>
<g transform="translate(483.72,402.70) scale(0.85,1)">
<text x="0.00" y="0.00" font-size="9.8" text-anchor="middle" stroke="#2e2e2e" stroke-width="0.15">72</text>
</g>
<text x="394.80" y="416.60" font-size="9.3" text-anchor="middle" stroke="#2e2e2e" stroke-width="0.15" textLength="25.90" lengthAdjust="spacingAndGlyphs">Months</text>
<text transform="translate(270.3,324.7) rotate(-90)" font-size="9.4" text-anchor="middle" textLength="65.5" lengthAdjust="spacingAndGlyphs" stroke="#2e2e2e" stroke-width="0.15">Overall survival (%)</text>
<path d="M306.50,265.80 L317.70,265.80 L317.70,278.80 L326.70,278.80 L326.70,305.00 L339.20,305.00 L339.20,318.10 L377.50,318.10 L377.50,334.50 L492.00,334.50" fill="none" stroke="#f3c455" stroke-width="1.2" stroke-linejoin="miter" stroke-dasharray="5 2.5 1.5 2.5"/>
<path d="M306.50,265.80 L320.40,265.80 L320.40,272.00 L323.10,272.00 L323.10,293.20 L327.30,293.20 L327.30,300.40 L327.93,300.40 L327.93,302.70 L328.57,302.70 L328.57,305.00 L329.20,305.00 L329.20,307.30 L331.50,307.30 L331.50,314.20 L351.50,314.20 L351.50,321.00 L420.00,321.00 L420.00,337.00 L492.50,337.00" fill="none" stroke="#50ab50" stroke-width="1.2" stroke-linejoin="miter"/>
<path d="M306.50,265.80 L323.50,265.80 L323.60,265.80 L323.60,267.97 L323.70,267.97 L323.70,270.13 L323.80,270.13 L323.80,272.30 L327.30,272.30 L327.30,278.80 L330.40,278.80 L330.40,280.00 L330.40,285.20 L346.20,285.20 L346.20,291.90 L347.70,291.90 L347.70,294.20 L349.20,294.20 L349.20,296.50 L351.50,296.50 L351.50,298.45 L353.80,298.45 L353.80,300.40 L354.60,300.40 L354.60,302.70 L355.40,302.70 L355.40,305.00 L366.20,305.00 L366.95,305.00 L366.95,307.70 L367.70,307.70 L367.70,310.40 L368.27,310.40 L368.27,312.32 L368.85,312.32 L368.85,314.25 L369.43,314.25 L369.43,316.18 L370.00,316.18 L370.00,318.10 L383.00,318.10 L383.00,326.30 L491.25,326.30" fill="none" stroke="#aa3246" stroke-width="1.2" stroke-linejoin="miter" stroke-dasharray="6 2 1.8 2"/>
<path d="M306.50,265.80 L323.50,265.80 L323.50,268.80 L326.90,268.80 L326.90,272.30 L338.10,272.30 L338.10,277.70 L340.00,277.70 L340.00,279.20 L342.70,279.20 L342.70,282.30 L352.30,282.30 L352.30,284.50 L368.50,284.50 L368.50,288.25 L417.50,288.25 L417.50,294.00 L419.50,294.00 L419.50,298.75 L422.00,298.75 L422.00,304.00 L492.50,304.00" fill="none" stroke="#33528c" stroke-width="1.2" stroke-linejoin="miter"/>
<line x1="306.30" y1="265.80" x2="320.00" y2="265.80" stroke="#93626c" stroke-width="1.3"/>
<line x1="385.50" y1="286.55" x2="385.50" y2="289.95" stroke="#33528c" stroke-width="0.7"/>
<line x1="387.50" y1="286.55" x2="387.50" y2="289.95" stroke="#33528c" stroke-width="0.7"/>
<line x1="390.00" y1="286.55" x2="390.00" y2="289.95" stroke="#33528c" stroke-width="0.7"/>
<line x1="396.25" y1="286.55" x2="396.25" y2="289.95" stroke="#33528c" stroke-width="0.7"/>
<line x1="415.00" y1="286.55" x2="415.00" y2="289.95" stroke="#33528c" stroke-width="0.7"/>
<line x1="426.25" y1="302.30" x2="426.25" y2="305.70" stroke="#33528c" stroke-width="0.7"/>
<line x1="428.75" y1="302.30" x2="428.75" y2="305.70" stroke="#33528c" stroke-width="0.7"/>
<line x1="431.25" y1="302.30" x2="431.25" y2="305.70" stroke="#33528c" stroke-width="0.7"/>
<line x1="445.00" y1="302.30" x2="445.00" y2="305.70" stroke="#33528c" stroke-width="0.7"/>
<line x1="452.50" y1="302.30" x2="452.50" y2="305.70" stroke="#33528c" stroke-width="0.7"/>
<line x1="463.75" y1="302.30" x2="463.75" y2="305.70" stroke="#33528c" stroke-width="0.7"/>
<line x1="480.00" y1="302.30" x2="480.00" y2="305.70" stroke="#33528c" stroke-width="0.7"/>
<line x1="400.00" y1="319.30" x2="400.00" y2="322.70" stroke="#50ab50" stroke-width="0.7"/>
<line x1="406.25" y1="319.30" x2="406.25" y2="322.70" stroke="#50ab50" stroke-width="0.7"/>
<line x1="463.75" y1="335.30" x2="463.75" y2="338.70" stroke="#50ab50" stroke-width="0.7"/>
<line x1="468.75" y1="335.30" x2="468.75" y2="338.70" stroke="#50ab50" stroke-width="0.7"/>
<line x1="405.00" y1="324.60" x2="405.00" y2="328.00" stroke="#aa3246" stroke-width="0.7"/>
<line x1="442.50" y1="324.60" x2="442.50" y2="328.00" stroke="#aa3246" stroke-width="0.7"/>
<line x1="462.50" y1="324.60" x2="462.50" y2="328.00" stroke="#aa3246" stroke-width="0.7"/>
<line x1="490.00" y1="324.60" x2="490.00" y2="328.00" stroke="#aa3246" stroke-width="0.7"/>
<text x="438.60" y="239.00" font-size="8.3" stroke="#2e2e2e" stroke-width="0.15" textLength="59.80" lengthAdjust="spacingAndGlyphs">Cohort 2-year OS</text>
<line x1="425.60" y1="247.70" x2="438.40" y2="247.70" stroke="#6cb86c" stroke-width="1.1"/>
<line x1="432.40" y1="246.20" x2="432.40" y2="249.20" stroke="#6cb86c" stroke-width="0.7"/>
<text x="441.70" y="250.50" font-size="8.3" stroke="#2e2e2e" stroke-width="0.15" textLength="60.70" lengthAdjust="spacingAndGlyphs">SOR no HCT 53%</text>
<line x1="425.60" y1="259.90" x2="438.40" y2="259.90" stroke="#2e4474" stroke-width="1.1"/>
<line x1="432.40" y1="258.40" x2="432.40" y2="261.40" stroke="#2e4474" stroke-width="0.7"/>
<text x="441.70" y="262.50" font-size="8.3" stroke="#2e2e2e" stroke-width="0.15" textLength="66.00" lengthAdjust="spacingAndGlyphs">SOR HCT CR1 84%</text>
<line x1="426.40" y1="272.10" x2="428.60" y2="272.10" stroke="#e8d49c" stroke-width="1.2"/>
<line x1="432.00" y1="272.10" x2="438.40" y2="272.10" stroke="#f2c05a" stroke-width="1.3"/>
<text x="441.70" y="274.70" font-size="8.3" stroke="#2e2e2e" stroke-width="0.15" textLength="60.70" lengthAdjust="spacingAndGlyphs">PBO no HCT 56%</text>
<line x1="426.40" y1="284.10" x2="428.60" y2="284.10" stroke="#7a4a50" stroke-width="1.2"/>
<line x1="432.00" y1="284.10" x2="438.40" y2="284.10" stroke="#b03a40" stroke-width="1.3"/>
<text x="441.70" y="286.50" font-size="8.3" stroke="#2e2e2e" stroke-width="0.15" textLength="66.00" lengthAdjust="spacingAndGlyphs">PBO HCT CR1 67%</text>
<text x="302.00" y="429.00" font-size="8.2" stroke="#2e2e2e" stroke-width="0.15" textLength="23.00" lengthAdjust="spacingAndGlyphs">At risk</text>
<line x1="286.30" y1="437.50" x2="298.80" y2="437.50" stroke="#5fa05f" stroke-width="1.2"/>
<text x="306.40" y="440.70" font-size="8.6" text-anchor="middle" fill="#5fa05f" stroke="#5fa05f" stroke-width="0.15">17</text>
<text x="335.92" y="440.70" font-size="8.6" text-anchor="middle" fill="#5fa05f" stroke="#5fa05f" stroke-width="0.15">10</text>
<text x="365.44" y="440.70" font-size="8.6" text-anchor="middle" fill="#5fa05f" stroke="#5fa05f" stroke-width="0.15">9</text>
<text x="394.96" y="440.70" font-size="8.6" text-anchor="middle" fill="#5fa05f" stroke="#5fa05f" stroke-width="0.15">7</text>
<text x="424.48" y="440.70" font-size="8.6" text-anchor="middle" fill="#5fa05f" stroke="#5fa05f" stroke-width="0.15">3</text>
<text x="454.00" y="440.70" font-size="8.6" text-anchor="middle" fill="#5fa05f" stroke="#5fa05f" stroke-width="0.15">3</text>
<text x="483.52" y="440.70" font-size="8.6" text-anchor="middle" fill="#5fa05f" stroke="#5fa05f" stroke-width="0.15">1</text>
<line x1="286.30" y1="449.50" x2="298.80" y2="449.50" stroke="#36548e" stroke-width="1.2"/>
<text x="306.40" y="452.70" font-size="8.6" text-anchor="middle" fill="#36548e" stroke="#36548e" stroke-width="0.15">37</text>
<text x="335.92" y="452.70" font-size="8.6" text-anchor="middle" fill="#36548e" stroke="#36548e" stroke-width="0.15">35</text>
<text x="365.44" y="452.70" font-size="8.6" text-anchor="middle" fill="#36548e" stroke="#36548e" stroke-width="0.15">29</text>
<text x="394.96" y="452.70" font-size="8.6" text-anchor="middle" fill="#36548e" stroke="#36548e" stroke-width="0.15">22</text>
<text x="424.48" y="452.70" font-size="8.6" text-anchor="middle" fill="#36548e" stroke="#36548e" stroke-width="0.15">14</text>
<text x="454.00" y="452.70" font-size="8.6" text-anchor="middle" fill="#36548e" stroke="#36548e" stroke-width="0.15">6</text>
<text x="483.52" y="452.70" font-size="8.6" text-anchor="middle" fill="#36548e" stroke="#36548e" stroke-width="0.15">3</text>
<line x1="286.30" y1="462.00" x2="298.80" y2="462.00" stroke="#efc666" stroke-width="1.2"/>
<text x="306.40" y="465.20" font-size="8.6" text-anchor="middle" fill="#efc666" stroke="#efc666" stroke-width="0.15">9</text>
<text x="335.92" y="465.20" font-size="8.6" text-anchor="middle" fill="#efc666" stroke="#efc666" stroke-width="0.15">6</text>
<text x="365.44" y="465.20" font-size="8.6" text-anchor="middle" fill="#efc666" stroke="#efc666" stroke-width="0.15">5</text>
<text x="394.96" y="465.20" font-size="8.6" text-anchor="middle" fill="#efc666" stroke="#efc666" stroke-width="0.15">2</text>
<text x="424.48" y="465.20" font-size="8.6" text-anchor="middle" fill="#efc666" stroke="#efc666" stroke-width="0.15">1</text>
<text x="454.00" y="465.20" font-size="8.6" text-anchor="middle" fill="#efc666" stroke="#efc666" stroke-width="0.15">1</text>
<text x="483.52" y="465.20" font-size="8.6" text-anchor="middle" fill="#efc666" stroke="#efc666" stroke-width="0.15">1</text>
<line x1="286.30" y1="473.80" x2="298.80" y2="473.80" stroke="#a8384c" stroke-width="1.2"/>
<text x="306.40" y="477.00" font-size="8.6" text-anchor="middle" fill="#a8384c" stroke="#a8384c" stroke-width="0.15">18</text>
<text x="335.92" y="477.00" font-size="8.6" text-anchor="middle" fill="#a8384c" stroke="#a8384c" stroke-width="0.15">15</text>
<text x="365.44" y="477.00" font-size="8.6" text-anchor="middle" fill="#a8384c" stroke="#a8384c" stroke-width="0.15">12</text>
<text x="394.96" y="477.00" font-size="8.6" text-anchor="middle" fill="#a8384c" stroke="#a8384c" stroke-width="0.15">6</text>
<text x="424.48" y="477.00" font-size="8.6" text-anchor="middle" fill="#a8384c" stroke="#a8384c" stroke-width="0.15">5</text>
<text x="454.00" y="477.00" font-size="8.6" text-anchor="middle" fill="#a8384c" stroke="#a8384c" stroke-width="0.15">3</text>
<text x="483.52" y="477.00" font-size="8.6" text-anchor="middle" fill="#a8384c" stroke="#a8384c" stroke-width="0.15">2</text>
<rect x="283.1" y="496.0" width="215.7" height="24.6" fill="#e0dfe4"/>
<rect x="283.1" y="545.6" width="215.7" height="25.0" fill="#e0dfe4"/>
<text x="287.70" y="490.80" font-size="8.6" stroke="#2e2e2e" stroke-width="0.15" textLength="35.30" lengthAdjust="spacingAndGlyphs">Covariate</text>
<text x="387.70" y="490.70" font-size="8.6" stroke="#2e2e2e" stroke-width="0.15" textLength="43.60" lengthAdjust="spacingAndGlyphs">HR (95% CI)</text>
<text x="469.50" y="491.10" font-size="8.6" stroke="#2e2e2e" stroke-width="0.15" textLength="25.50" lengthAdjust="spacingAndGlyphs">P value</text>
<text x="287.80" y="507.00" font-size="8.6" stroke="#2e2e2e" stroke-width="0.15" textLength="71.40" lengthAdjust="spacingAndGlyphs">SOR HCT in CR1 vs</text>
<text x="287.80" y="516.60" font-size="8.6" stroke="#2e2e2e" stroke-width="0.15" textLength="46.60" lengthAdjust="spacingAndGlyphs">SOR no HCT</text>
<text x="287.80" y="531.20" font-size="8.6" stroke="#2e2e2e" stroke-width="0.15" textLength="71.70" lengthAdjust="spacingAndGlyphs">PBO HCT in CR1 vs</text>
<text x="287.80" y="540.80" font-size="8.6" stroke="#2e2e2e" stroke-width="0.15" textLength="46.60" lengthAdjust="spacingAndGlyphs">PBO no HCT</text>
<text x="287.80" y="555.40" font-size="8.6" stroke="#2e2e2e" stroke-width="0.15" textLength="71.40" lengthAdjust="spacingAndGlyphs">SOR HCT in CR1 vs</text>
<text x="287.80" y="565.10" font-size="8.6" stroke="#2e2e2e" stroke-width="0.15" textLength="61.50" lengthAdjust="spacingAndGlyphs">PBO HCT in CR1</text>
<text x="379.90" y="506.80" font-size="8.6" stroke="#2e2e2e" stroke-width="0.15" textLength="57.10" lengthAdjust="spacingAndGlyphs">0.35 (0.14-0.87)</text>
<text x="381.10" y="531.00" font-size="8.6" stroke="#2e2e2e" stroke-width="0.15" textLength="56.90" lengthAdjust="spacingAndGlyphs">0.73 (0.24-2.19)</text>
<text x="381.10" y="554.80" font-size="8.6" stroke="#2e2e2e" stroke-width="0.15" textLength="56.90" lengthAdjust="spacingAndGlyphs">0.45 (0.18-1.12)</text>
<text x="477.00" y="506.80" font-size="8.6" stroke="#2e2e2e" stroke-width="0.15" textLength="11.20" lengthAdjust="spacingAndGlyphs">.02</text>
<text x="477.00" y="530.60" font-size="8.6" stroke="#2e2e2e" stroke-width="0.15" textLength="11.20" lengthAdjust="spacingAndGlyphs">.57</text>
<text x="477.00" y="555.00" font-size="8.6" stroke="#2e2e2e" stroke-width="0.15" textLength="11.20" lengthAdjust="spacingAndGlyphs">.08</text>
</g>
<rect x="0" y="0" width="520" height="1" fill="#5c5c5c"/>
<rect x="0" y="0" width="1" height="584" fill="#555"/>
<rect x="518" y="0" width="1" height="584" fill="#cfcfcf"/>
<rect x="519" y="0" width="1" height="584" fill="#3c3c3c"/>
<rect x="0" y="582" width="520" height="1" fill="#c4c4c4"/>
<rect x="0" y="583" width="520" height="1" fill="#363636"/>
</svg>
</body></html>
